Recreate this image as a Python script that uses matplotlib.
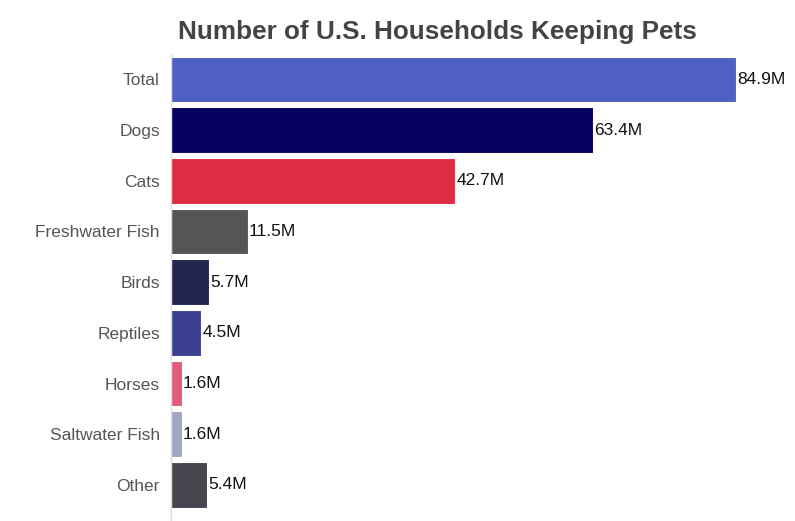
import matplotlib.pyplot as plt

plt.rcParams['font.family'] = ['Liberation Sans', 'DejaVu Sans']

# Data
pets = ['Total', 'Dogs', 'Cats', 'Freshwater Fish', 'Birds',
        'Reptiles', 'Horses', 'Saltwater Fish', 'Other']
households = [84.9, 63.4, 42.7, 11.5, 5.7, 4.5, 1.6, 1.6, 5.4]
colors = ['#4f5fc4', '#03005e', '#de2c42', '#555555', '#222550',
          '#3a408f', '#e35d7a', '#a0a5c2', '#45454d']

fig = plt.figure(figsize=(7.95, 5.21), dpi=100)
ax = fig.add_axes([171 / 795, 0, (764 - 171) / 795, 1 - 54 / 521])

ypos = range(len(pets))
ax.barh(ypos, households, height=0.9, color=colors,
        edgecolor='white', linewidth=0.8)
for y, v in zip(ypos, households):
    ax.text(v + 0.2, y, f'{v}M', va='center', ha='left',
            fontsize=12.5, color='#111111')

ax.set_yticks(list(ypos))
ax.set_yticklabels(pets, fontsize=12.5, color='#555555')
ax.set_ylim(8.71, -0.5)
ax.set_xlim(0, 89.1)
ax.set_xticks([])
ax.tick_params(axis='y', length=0, pad=8)
for side in ['top', 'right', 'bottom']:
    ax.spines[side].set_visible(False)
ax.spines['left'].set_color('#dddddd')
ax.spines['left'].set_linewidth(1)

fig.text(437 / 795, 1 - 32 / 521, 'Number of U.S. Households Keeping Pets',
         ha='center', va='center', fontsize=18.8, fontweight='bold',
         color='#444444')

fig.savefig('out.png', dpi=100)
